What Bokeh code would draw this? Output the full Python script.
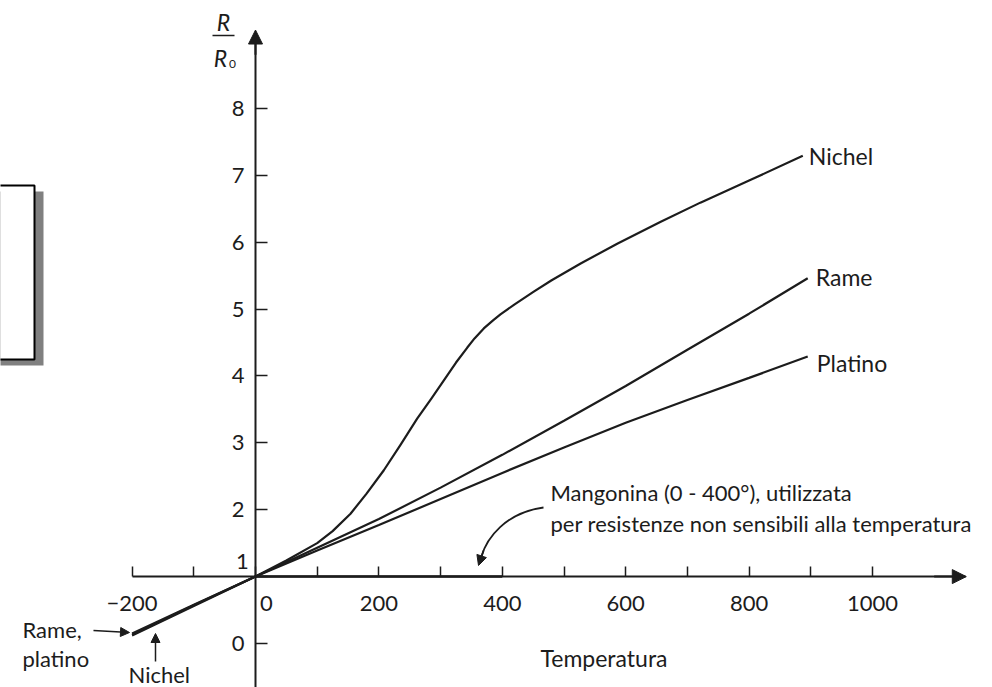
from bokeh.plotting import figure
from bokeh.models import LinearAxis, FixedTicker, Arrow, NormalHead, BoxAnnotation, Range1d
from bokeh.core.properties import value
from bokeh.embed import file_html
from bokeh.resources import INLINE

# ---------------- data ----------------
temp_nichel = [-200, -100, 0, 50, 100, 125, 154, 180, 208, 235, 262, 285, 305, 325, 343,
               355, 370, 385, 397, 420, 451, 480, 527, 587, 656, 721, 800, 887]
r_nichel = [0.15, 0.58, 1.0, 1.24, 1.5, 1.68, 1.94, 2.24, 2.59, 2.97, 3.36, 3.66, 3.93, 4.2, 4.42,
            4.56, 4.71, 4.83, 4.92, 5.07, 5.26, 5.43, 5.68, 5.98, 6.3, 6.59, 6.92, 7.29]

temp_rame = [-200, -100, 0, 100, 200, 300, 400, 500, 600, 700, 800, 895]
r_rame = [0.12, 0.56, 1.0, 1.43, 1.86, 2.33, 2.82, 3.33, 3.85, 4.39, 4.93, 5.46]

temp_platino = [-200, -100, 0, 100, 200, 300, 400, 500, 600, 700, 800, 895]
r_platino = [0.13, 0.57, 1.0, 1.39, 1.77, 2.16, 2.55, 2.93, 3.30, 3.64, 3.97, 4.29]

temp_mangonina = [0, 400]
r_mangonina = [1.0, 1.0]

x_ticks = [-200, 0, 200, 400, 600, 800, 1000]
x_minor_ticks = [-100, 100, 300, 500, 700, 900]
y_ticks = [0, 1, 2, 3, 4, 5, 6, 7, 8]

curve_names = ["Nichel", "Rame", "Platino"]

INK = "#1c1c1c"
FONT = "Lato"

W, H = 992, 687

# page-pixel helpers for decorations
def px2x(px):
    return (px - 255) / 0.617

def py2y(py):
    return (643 - py) / 66.9

p = figure(width=W, height=H,
           x_range=Range1d(px2x(0), px2x(W)),
           y_range=Range1d(py2y(H), py2y(0)),
           x_axis_type=None, y_axis_type=None,
           toolbar_location=None, output_backend="svg",
           min_border=0, outline_line_color=None,
           background_fill_color="white", border_fill_color="white")

# ---------------- axes ----------------
xaxis = LinearAxis(fixed_location=1, bounds=(-200, 1150),
                   ticker=FixedTicker(ticks=x_ticks, minor_ticks=x_minor_ticks),
                   major_tick_in=10, major_tick_out=0,
                   minor_tick_in=10, minor_tick_out=0,
                   axis_line_width=2, axis_line_color=INK,
                   major_tick_line_width=1.5, major_tick_line_color=INK,
                   minor_tick_line_width=1.5, minor_tick_line_color=INK,
                   major_label_standoff=12,
                   major_label_text_font=FONT, major_label_text_font_size="22px",
                   major_label_text_color=INK,
                   major_label_overrides={0: "\u2002\u20020"})
p.add_layout(xaxis, "below")

yaxis = LinearAxis(fixed_location=0, bounds=(py2y(H), 9.0),
                   ticker=FixedTicker(ticks=y_ticks, minor_ticks=[]),
                   major_tick_in=12, major_tick_out=0,
                   minor_tick_in=0, minor_tick_out=0,
                   axis_line_width=2, axis_line_color=INK,
                   major_tick_line_width=1.5, major_tick_line_color=INK,
                   major_label_standoff=11,
                   major_label_text_font=FONT, major_label_text_font_size="22px",
                   major_label_text_color=INK,
                   major_label_overrides={1: ""})
p.add_layout(yaxis, "left")

# "1" label sits above the x axis
p.text(x=[0], y=[y_ticks[1]], text=[str(y_ticks[1])], x_offset=[-13], y_offset=[-15],
       text_font=value(FONT), text_font_size="22px", text_color=INK,
       text_align="center", text_baseline="middle")

# axis arrow heads
p.add_layout(Arrow(end=NormalHead(size=14, fill_color=INK, line_color=INK),
                   x_start=1100, y_start=1, x_end=1152, y_end=1,
                   line_width=2, line_color=INK))
p.add_layout(Arrow(end=NormalHead(size=14, fill_color=INK, line_color=INK),
                   x_start=0, y_start=8.8, x_end=0, y_end=9.17,
                   line_width=2, line_color=INK))

# ---------------- curves ----------------
p.line(temp_mangonina, r_mangonina, line_width=2.5, line_color=INK)
p.line(temp_platino, r_platino, line_width=2.2, line_color=INK)
p.line(temp_rame, r_rame, line_width=2.2, line_color=INK)
p.line(temp_nichel, r_nichel, line_width=2.2, line_color=INK, line_join="round")

# curve labels at line ends
p.text(x=[temp_nichel[-1], temp_rame[-1], temp_platino[-1]],
       y=[r_nichel[-1], r_rame[-1], r_platino[-1]],
       text=curve_names, x_offset=[6, 8, 9], y_offset=[0, -1, 7],
       text_font=value(FONT), text_font_size="23px", text_color=INK,
       text_align="left", text_baseline="middle")

# ---------------- annotations ----------------
p.text(x=[px2x(550), px2x(550)], y=[py2y(492), py2y(523)],
       text=["Mangonina (0 - 400°), utilizzata",
             "per resistenze non sensibili alla temperatura"],
       text_font=value(FONT), text_font_size="22px", text_color=INK,
       text_align="left", text_baseline="middle")

p.bezier(x0=px2x(543), y0=py2y(507), x1=px2x(481), y1=py2y(556),
         cx0=px2x(505), cy0=py2y(512), cx1=px2x(486), cy1=py2y(538),
         line_width=1.8, line_color=INK)
p.add_layout(Arrow(end=NormalHead(size=10, fill_color=INK, line_color=INK),
                   x_start=px2x(483), y_start=py2y(550), x_end=px2x(478), y_end=py2y(565),
                   line_width=1.8, line_color=INK))

p.text(x=[px2x(540)], y=[py2y(657)], text=["Temperatura"],
       text_font=value(FONT), text_font_size="23px", text_color=INK,
       text_align="left", text_baseline="middle")

p.text(x=[px2x(22), px2x(22), px2x(128)], y=[py2y(629), py2y(658), py2y(674)],
       text=["Rame,", "platino", "Nichel"],
       text_font=value(FONT), text_font_size="22px", text_color=INK,
       text_align="left", text_baseline="middle")

p.add_layout(Arrow(end=NormalHead(size=9, fill_color=INK, line_color=INK),
                   x_start=px2x(93), y_start=py2y(630), x_end=px2x(129), y_end=py2y(632),
                   line_width=1.5, line_color=INK))
p.add_layout(Arrow(end=NormalHead(size=9, fill_color=INK, line_color=INK),
                   x_start=px2x(155), y_start=py2y(661), x_end=px2x(155), y_end=py2y(633),
                   line_width=1.5, line_color=INK))

# y axis title R / R0
p.text(x=[px2x(223), px2x(220)], y=[py2y(21), py2y(57)], text=["R", "R"],
       text_font=value(FONT), text_font_size="23px", text_font_style="italic",
       text_color=INK, text_align="center", text_baseline="middle")
p.text(x=[px2x(232)], y=[py2y(63)], text=["0"],
       text_font=value(FONT), text_font_size="12px", text_color=INK,
       text_align="center", text_baseline="middle")
p.segment(x0=[px2x(212)], y0=[py2y(35)], x1=[px2x(234)], y1=[py2y(35)],
          line_width=1.5, line_color=INK)

# empty framed box on the left with drop shadow
p.add_layout(BoxAnnotation(left=px2x(-20), right=px2x(43), top=py2y(191), bottom=py2y(365),
                           fill_color="#808080", fill_alpha=1, line_color=None))
p.add_layout(BoxAnnotation(left=px2x(-20), right=px2x(34), top=py2y(185), bottom=py2y(359),
                           fill_color="white", fill_alpha=1,
                           line_color="black", line_alpha=1, line_width=2))

open("out.html", "w").write(file_html(p, INLINE))
